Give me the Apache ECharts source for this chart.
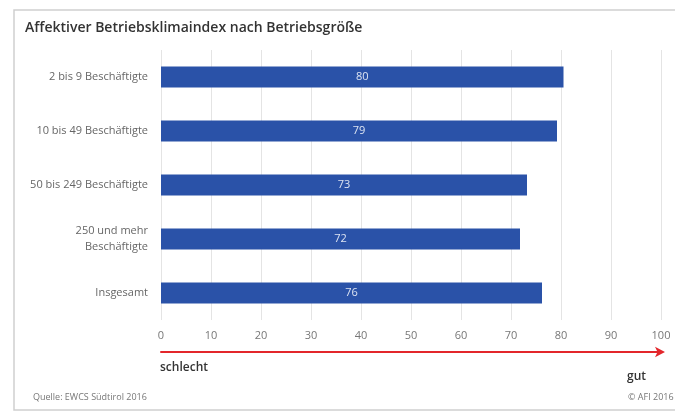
<!DOCTYPE html>
<html><head><meta charset="utf-8">
<script src="https://cdn.jsdelivr.net/npm/echarts@6/dist/echarts.min.js"></script>
<style>html,body{margin:0;padding:0;background:#fff}#c{width:675px;height:414px}</style>
</head><body><div id="c"></div>
<script>
const categories = ['2 bis 9 Beschäftigte','10 bis 49 Beschäftigte','50 bis 249 Beschäftigte','250 und mehr\nBeschäftigte','Insgesamt'];
const values = [80.5, 79.2, 73.2, 71.8, 76.2];
const valueLabels = ['80','79','73','72','76'];
const titleText = 'Affektiver Betriebsklimaindex nach Betriebsgröße';
const sourceText = 'Quelle: EWCS Südtirol 2016';
const copyrightText = '© AFI 2016';
const lowText = 'schlecht';
const highText = 'gut';

const chart = echarts.init(document.getElementById('c'));
const font = '"Open Sans", "Noto Sans", sans-serif';
chart.setOption({
  animation: false,
  textStyle: {fontFamily: font},
  title: {text: titleText, left: 20, top: 16,
    textStyle: {fontSize: 14, fontWeight: 600, color: '#333', fontFamily: font}},
  grid: {left: 161, right: 14, top: 50, height: 270},
  xAxis: [{
    type: 'value', min: 0, max: 100, interval: 10, position: 'bottom',
    axisLine: {show: false}, axisTick: {show: false},
    axisLabel: {color: '#777', fontSize: 11, margin: 10},
    splitLine: {show: true, lineStyle: {color: '#e4e4e4', width: 1}}
  }, {
    type: 'value', min: 0, max: 100, position: 'bottom', offset: 32,
    axisLine: {show: true, symbol: ['none', 'arrow'], symbolSize: [8, 10], symbolOffset: [0, 4],
      lineStyle: {color: '#e3262b', width: 2}},
    axisTick: {show: false}, axisLabel: {show: false}, splitLine: {show: false}
  }],
  yAxis: {
    type: 'category', data: categories, inverse: true,
    axisLine: {show: false}, axisTick: {show: false},
    axisLabel: {color: '#666', fontSize: 11, margin: 13, lineHeight: 16, align: 'right'}
  },
  series: [{
    type: 'bar', data: values, barWidth: 21, xAxisIndex: 0,
    itemStyle: {color: '#2a52a8'},
    label: {show: true, position: 'inside', color: '#dde4f2', fontSize: 11,
      formatter: p => valueLabels[p.dataIndex]}
  }],
  graphic: [
    {type: 'rect', shape: {x: 14, y: 10, width: 670, height: 400},
      style: {fill: 'none', stroke: '#cfcfcf', lineWidth: 1.5}, silent: true},
    {type: 'text', left: 160, top: 362, style: {text: lowText, font: '600 12px ' + font, fill: '#333'}},
    {type: 'text', left: 627, top: 371, style: {text: highText, font: '600 12px ' + font, fill: '#333'}},
    {type: 'text', left: 33, top: 393, style: {text: sourceText, font: '9px ' + font, fill: '#777'}},
    {type: 'text', left: 628, top: 393, style: {text: copyrightText, font: '9px ' + font, fill: '#777'}}
  ]
});
</script></body></html>
